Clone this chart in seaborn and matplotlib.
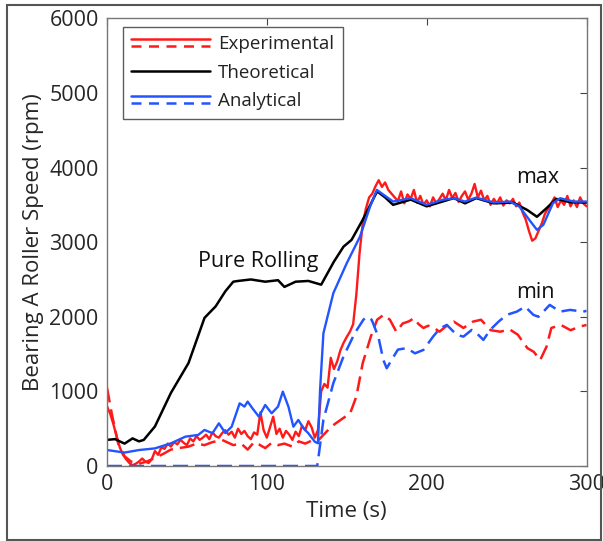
import numpy as np
import pandas as pd
import seaborn as sns
import matplotlib.pyplot as plt
from matplotlib.lines import Line2D
from matplotlib.patches import Rectangle
from matplotlib.legend_handler import HandlerBase

#######################################
# data
#######################################
# theoretical (pure rolling)
t_theo = [0, 5, 11, 16, 20, 23, 30, 40, 51, 61, 68, 74, 79, 82, 90, 99, 107, 111, 118, 126,
          134, 142, 148, 153, 160, 169, 174, 179, 190, 200, 210, 217, 224, 231, 242, 254,
          263, 269, 275, 281, 290, 300]
v_theo = [350, 360, 300, 370, 330, 350, 530, 980, 1380, 1985, 2140, 2340, 2470, 2480, 2500,
          2470, 2490, 2400, 2470, 2480, 2430, 2740, 2940, 3030, 3300, 3680, 3600, 3500, 3570,
          3480, 3545, 3590, 3520, 3590, 3520, 3530, 3430, 3340, 3455, 3580, 3535, 3530]

# analytical max (solid blue)
t_ana_max = [0, 11, 20, 30, 40, 49, 57, 61, 66, 70, 74, 78, 83, 86, 88, 91, 95, 99, 103, 107,
             110, 113.5, 116.6, 119.7, 123, 126, 130, 132, 133.3, 135.4, 141.6, 150, 158.3,
             164.6, 168.8, 179, 190, 200, 210, 217, 224, 231, 242, 252, 258, 265, 269, 273,
             279, 283.5, 292, 300]
v_ana_max = [214, 180, 214, 236, 304, 393, 416, 483, 440, 572, 442, 527, 840, 796, 863, 773,
             662, 818, 706, 796, 997, 796, 527, 617, 505, 438, 326, 304, 1019, 1779, 2316,
             2718, 3075, 3477, 3700, 3544, 3589, 3500, 3567, 3589, 3544, 3598, 3531, 3544,
             3477, 3276, 3165, 3232, 3522, 3589, 3544, 3544]

# analytical min (dashed blue)
t_ana_min = [0, 131.5, 132.5, 135.4, 141.6, 148, 155, 160.4, 162.5, 165.6, 169.8, 172.9, 175,
             178, 182, 187.5, 192.7, 198, 204, 208.4, 212.6, 218.8, 223, 228.2, 231.3, 235.5,
             239.7, 245, 250, 256.4, 261.6, 266.8, 270, 277, 283.5, 289.7, 298, 300]
v_ana_min = [0, 0, 150, 620, 1110, 1470, 1780, 1960, 2000, 1960, 1730, 1420, 1310, 1420,
             1560, 1580, 1510, 1556, 1734, 1846, 1891, 1757, 1734, 1824, 1779, 1690, 1824,
             1935, 2025, 2069, 2136, 2025, 2000, 2159, 2069, 2092, 2069, 2080]

# experimental min (dashed red)
t_exp_min = [0, 3, 7, 11, 15, 20, 25, 30, 35, 40, 45, 51, 56, 61, 66, 72, 79, 84, 88, 92, 95,
             99, 103, 107, 111, 116, 120, 124, 128, 132, 136, 140, 143, 149, 152, 156, 160,
             165, 169, 173, 177, 181, 185, 189, 192, 195, 198, 201, 204, 208, 212, 217, 223,
             229, 234, 240, 246, 252, 257, 263, 267, 271, 275, 278, 284, 290, 296, 300]
v_exp_min = [1050, 700, 300, 130, 60, 30, 60, 110, 160, 220, 240, 260, 300, 280, 320, 350,
             280, 300, 220, 320, 290, 240, 310, 280, 300, 260, 330, 300, 340, 340, 430, 520,
             570, 660, 700, 930, 1380, 1730, 1960, 2025, 1960, 1800, 1910, 1940, 1980, 1900,
             1850, 1880, 1860, 1800, 1870, 1935, 1850, 1935, 1960, 1820, 1800, 1830, 1760,
             1580, 1530, 1420, 1600, 1850, 1890, 1820, 1870, 1890]

# experimental max (solid red), every 2 s
t_exp_max = list(range(0, 302, 2))
v_exp_max = [800, 700, 560, 400, 250, 150, 90, 40, 10, 30, 60, 100, 60, 40, 90, 200, 150,
             250, 230, 300, 260, 320, 290, 350, 310, 280, 370, 330, 400, 350, 380, 420, 360,
             450, 400, 380, 440, 480, 420, 460, 380, 500, 430, 470, 400, 360, 450, 420, 720,
             480, 380, 520, 660, 430, 500, 380, 470, 420, 350, 460, 400, 540, 480, 600, 520,
             380,
             483, 1000, 1100, 1050, 1450, 1300, 1400, 1550, 1650, 1730, 1800, 1900, 2300,
             2850, 3250, 3450, 3600, 3650, 3750, 3830, 3740, 3800, 3700, 3650,
             3600, 3550, 3680, 3520, 3640, 3580, 3700, 3530, 3620, 3500, 3560, 3480, 3600,
             3520, 3580, 3650, 3560, 3700, 3590, 3660, 3540, 3620, 3680, 3570, 3650, 3780,
             3600, 3690, 3560, 3620, 3500, 3580, 3520, 3600, 3490, 3560, 3520, 3580, 3480,
             3530, 3400, 3300, 3150, 3020, 3050, 3150, 3250, 3380, 3450, 3520, 3600, 3470,
             3560, 3500, 3620, 3480, 3560, 3470, 3600, 3520, 3480]
assert len(t_exp_max) == len(v_exp_max), (len(t_exp_max), len(v_exp_max))

#######################################
# plot
#######################################
sns.set_theme(style='white')
plt.rcParams['font.family'] = ['Open Sans', 'DejaVu Sans']

RED = '#ff1a1a'
BLUE = '#2255ff'
DASH = (0, (6.0, 2.8))
LEG_DASH = (0, (4.0, 3.0))

fig = plt.figure(figsize=(6.03, 5.41), dpi=100)
ax = fig.add_axes([107 / 603, 1 - 466 / 541, (586.5 - 107) / 603, (466 - 18.3) / 541])

sns.lineplot(x=t_exp_max, y=v_exp_max, ax=ax, color=RED, lw=1.7)
sns.lineplot(x=t_exp_min, y=v_exp_min, ax=ax, color=RED, lw=1.8, linestyle=DASH)
sns.lineplot(x=t_theo, y=v_theo, ax=ax, color='black', lw=1.8)
sns.lineplot(x=t_ana_max, y=v_ana_max, ax=ax, color=BLUE, lw=1.7)
sns.lineplot(x=t_ana_min, y=v_ana_min, ax=ax, color=BLUE, lw=1.8, linestyle=DASH)

ax.set_xlim(0, 300)
ax.set_ylim(0, 6000)
ax.set_xticks([0, 100, 200, 300])
ax.set_yticks(range(0, 7000, 1000))
ax.tick_params(direction='in', length=5, width=0.8, color='#444444', labelsize=15.5,
               labelcolor='#262626', top=True, right=True, pad=6)
for s in ax.spines.values():
    s.set_color('#777777')
    s.set_linewidth(1.0)
ax.set_xlabel('Time (s)', fontsize=16, color='#262626', labelpad=4)
ax.set_ylabel('Bearing A Roller Speed (rpm)', fontsize=16, color='#262626', labelpad=4)

ax.text(57, 2740, 'Pure Rolling', fontsize=15.5, va='center', ha='left', color='#111111')
ax.text(256, 3870, 'max', fontsize=15.5, va='center', ha='left', color='#111111')
ax.text(256, 2320, 'min', fontsize=15.5, va='center', ha='left', color='#111111')


class HandlerPair(HandlerBase):
    # draws one or two stacked lines per legend entry
    def create_artists(self, legend, orig_handle, xdescent, ydescent, width, height,
                       fontsize, trans):
        y0 = height / 2 - ydescent
        offs = [2.6, -2.6] if len(orig_handle) == 2 else [0]
        out = []
        for h, o in zip(orig_handle, offs):
            ln = Line2D([-xdescent, -xdescent + width], [y0 + o, y0 + o])
            ln.update_from(h)
            ln.set_transform(trans)
            out.append(ln)
        return out


h_exp = (Line2D([], [], color=RED, lw=1.8), Line2D([], [], color=RED, lw=1.8, linestyle=LEG_DASH))
h_theo = (Line2D([], [], color='black', lw=1.8),)
h_ana = (Line2D([], [], color=BLUE, lw=1.8), Line2D([], [], color=BLUE, lw=1.8, linestyle=LEG_DASH))
leg = ax.legend([h_exp, h_theo, h_ana], ['Experimental', 'Theoretical', 'Analytical'],
                handler_map={tuple: HandlerPair()}, loc='upper left',
                bbox_to_anchor=((122.7 - 107) / 479.5, 1 - (27 - 18.3) / 447.7),
                borderaxespad=0, fontsize=13.5, handlelength=4.2, handletextpad=0.45,
                labelspacing=0.55, borderpad=0.45, frameon=True, fancybox=False)
leg.get_frame().set_edgecolor('#333333')
leg.get_frame().set_linewidth(1.0)
for tx in leg.get_texts():
    tx.set_color('#222222')

# outer frame around the whole picture
fig.patches.append(Rectangle((7 / 603, 1 / 541), 594 / 603, 535 / 541, transform=fig.transFigure,
                             fill=False, edgecolor='#555555', lw=1.5))

fig.savefig('out.png', dpi=100)
